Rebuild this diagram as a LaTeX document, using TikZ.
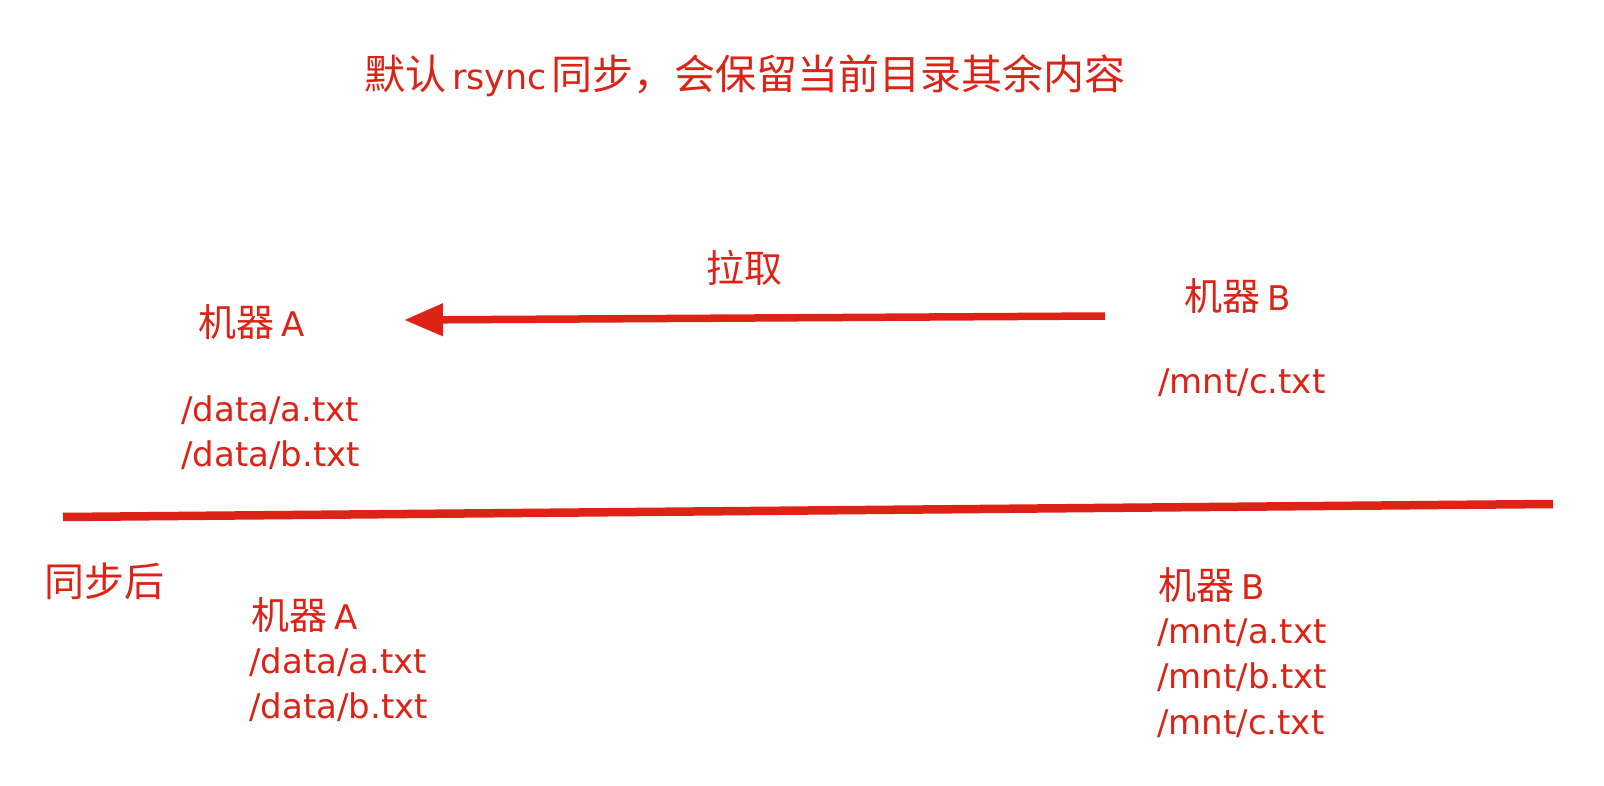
\documentclass[tikz,border=0pt]{standalone}
\usepackage{fontspec}
\setmainfont{DejaVu Sans}
\newfontfamily\cjkfont{Noto Sans CJK SC}
\usetikzlibrary{arrows.meta}
\definecolor{redc}{RGB}{220,35,22}
\newcommand\zhtxt[1]{{\fontsize{38}{44}\selectfont\cjkfont #1}}
\newcommand\zhbig[1]{{\fontsize{41}{48}\selectfont\cjkfont #1}}
\tikzset{
  txt/.style={text=redc, anchor=base west, inner sep=0pt, font=\fontsize{34}{40}\selectfont},
  thick line/.style={draw=redc, line width=7.5pt},
  divider/.style={draw=redc, line width=8.5pt},
}
\begin{document}
\begin{tikzpicture}[x=1pt,y=-1pt]
\useasboundingbox (0,0) rectangle (1604,786);
\node[txt, font=\fontsize{35}{44}\selectfont] (title) at (364,90) {\zhbig{默认}\hspace{6pt}rsync\hspace{5pt}\zhbig{同步，会保留当前目录其余内容}};
\node[txt] (pull) at (706,283) {\zhtxt{拉取}};
\node[txt] (A1) at (198,337) {\zhtxt{机器}\hspace{7pt}A};
\node[txt] (a1) at (181,421) {/data/a.txt};
\node[txt] (b1) at (181,466) {/data/b.txt};
\node[txt] (B1) at (1184,311) {\zhtxt{机器}\hspace{7pt}B};
\node[txt] (c1) at (1158,393) {/mnt/c.txt};
\coordinate (arrS) at (1105,316);
\coordinate (arrE) at (404,320);
\draw[thick line, -{Triangle[length=39pt,width=31pt]}] (arrS) -- (arrE);
\coordinate (divL) at (63,517);
\coordinate (divR) at (1553,504);
\draw[divider] (divL) -- (divR);
\node[txt] (after) at (44,596) {{\fontsize{40}{46}\selectfont\cjkfont 同步后}};
\node[txt] (A2) at (251,629) {\zhtxt{机器}\hspace{7pt}A};
\node[txt] (a2) at (249,673) {/data/a.txt};
\node[txt] (b2) at (249,718) {/data/b.txt};
\node[txt] (B2) at (1158,599) {\zhtxt{机器}\hspace{7pt}B};
\node[txt] (ma) at (1157,643) {/mnt/a.txt};
\node[txt] (mb) at (1157,688) {/mnt/b.txt};
\node[txt] (mc) at (1157,734) {/mnt/c.txt};
\end{tikzpicture}
\end{document}
